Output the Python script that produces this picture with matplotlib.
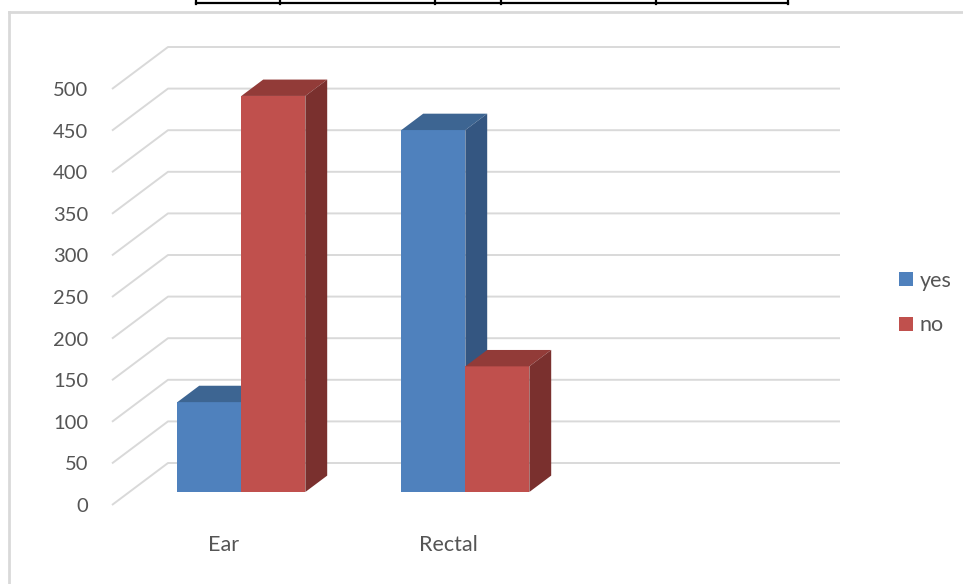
import matplotlib
matplotlib.use("Agg")
import matplotlib.pyplot as plt
from matplotlib.patches import Polygon
from matplotlib.lines import Line2D

# ---- data ----
categories = ["Ear", "Rectal", ""]
series_names = ["yes", "no"]
yes_values = [108, 435]
no_values = [476, 151]
y_ticks = [0, 50, 100, 150, 200, 250, 300, 350, 400, 450, 500]

# ---- style ----
W, H = 963, 584
PX_X0, PX_UNIT = 112.0, 224.0      # pixel of x=0, pixels per category slot
PX_Y0, PX_V = 505.0, 0.832         # pixel of value 0 (front plane), pixels per value unit
DEPTH_X = 56.0 / PX_UNIT           # full floor depth, x shift (data units)
DEPTH_Y = 42.0 / PX_V              # full floor depth, y shift (data units)
D_FRONT, D_BACK = 0.31, 0.70       # depth range of bars
BAR_W = 64.0 / PX_UNIT
front_cols = ["#4F81BD", "#C0504D"]
top_cols = ["#3D6592", "#923B38"]
side_cols = ["#345681", "#7A302E"]
grid_col = "#D9D9D9"
text_col = "#555555"
FONT = ["Lato", "DejaVu Sans"]

fig = plt.figure(figsize=(W / 100, H / 100), dpi=100)
ax = fig.add_axes([0, 0, 1, 1])
ax.set_xlim((0 - PX_X0) / PX_UNIT, (W - PX_X0) / PX_UNIT)
ax.set_ylim((PX_Y0 - H) / PX_V, PX_Y0 / PX_V)
ax.axis("off")

n_slots = len(categories)

# gridlines: side-wall diagonal + back-wall line
for v in y_ticks:
    ax.plot([0, DEPTH_X, n_slots + DEPTH_X], [v, v + DEPTH_Y, v + DEPTH_Y],
            color=grid_col, lw=1.4, zorder=1, solid_capstyle="butt")
    ax.text(-24.0 / PX_UNIT, v - 1.5 / PX_V, str(v), ha="right", va="center",
            fontsize=14.5, color=text_col, family=FONT)

# bars (oblique 3D)
fx, fy = D_FRONT * DEPTH_X, D_FRONT * DEPTH_Y
bx, by = (D_BACK - D_FRONT) * DEPTH_X, (D_BACK - D_FRONT) * DEPTH_Y
handles = []
z = 3
for ci in range(n_slots):
    vals = [yes_values, no_values]
    for si in range(2):
        if ci >= len(vals[si]):
            continue
        v = vals[si][ci]
        x0 = ci + 0.5 - BAR_W + si * BAR_W + fx
        x1 = x0 + BAR_W
        y0 = fy
        y1 = fy + v
        b = ax.bar(x0, v, width=BAR_W, bottom=y0, align="edge",
                   color=front_cols[si], edgecolor="none", zorder=z)
        if ci == 0:
            handles.append(b[0])
        ax.add_patch(Polygon([(x0, y1), (x1, y1), (x1 + bx, y1 + by), (x0 + bx, y1 + by)],
                             closed=True, facecolor=top_cols[si], edgecolor="none", zorder=z))
        ax.add_patch(Polygon([(x1, y0), (x1 + bx, y0 + by), (x1 + bx, y1 + by), (x1, y1)],
                             closed=True, facecolor=side_cols[si], edgecolor="none", zorder=z))
        z += 1

# category labels
for ci, c in enumerate(categories):
    if c:
        ax.text(ci + 0.5, (PX_Y0 - 545) / PX_V, c, ha="center", va="center",
                fontsize=15.5, color=text_col, family=FONT)

# legend
leg = ax.legend(handles, series_names, loc="center left",
                bbox_to_anchor=(880 / W, 1 - 303 / H), frameon=False,
                handlelength=0.65, handleheight=0.65, handletextpad=0.3,
                labelspacing=1.15, prop={"family": FONT, "size": 15.5})
for t in leg.get_texts():
    t.set_color(text_col)

# chart border (gray) and document table lines (black)
fig.add_artist(Line2D([9 / W, 9 / W], [0, 1 - 12 / H], color="#D9D9D9", lw=2))
fig.add_artist(Line2D([9 / W, 1], [1 - 12 / H, 1 - 12 / H], color="#D9D9D9", lw=2))
fig.add_artist(Line2D([196 / W, 788 / W], [1 - 3 / H, 1 - 3 / H], color="black", lw=1.6))
for px in [196, 280, 435, 501, 656, 788]:
    fig.add_artist(Line2D([px / W, px / W], [1 - 4 / H, 1], color="black", lw=1.6))

fig.savefig("out.png", dpi=100)
